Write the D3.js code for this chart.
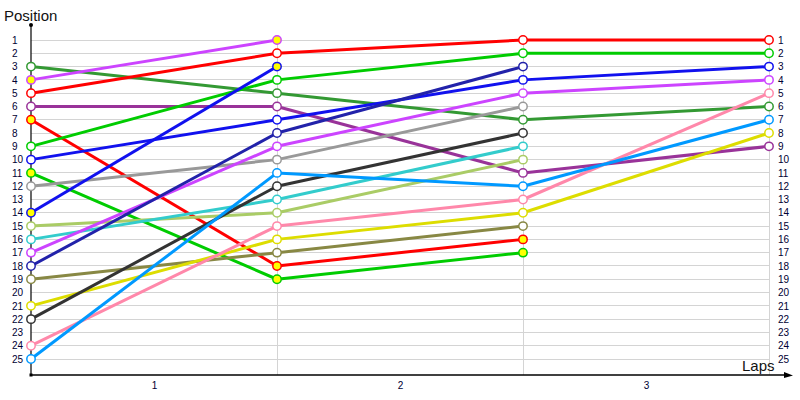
<!DOCTYPE html>
<html><head><meta charset="utf-8">
<script src="https://cdn.jsdelivr.net/npm/d3@7"></script>
<style>body{margin:0;background:#fff}svg{display:block}</style>
</head><body>
<svg id="c" width="800" height="400"></svg>
<script>
const laps = [0, 1, 2, 3];
const lapLabels = ["1", "2", "3"];
const positions = d3.range(1, 26);
const driverColors = ["#339933","#cc44ff","#ff0000","#993399","#ff0000","#00cc00","#1111ee","#00cc00","#999999","#1111ee","#aacc66","#33cccc","#cc44ff","#2222aa","#888844","#dddd00","#333333","#ff88aa","#0099ff"];
const driverYellow = [false,true,false,false,true,false,false,true,false,true,false,false,false,false,false,false,false,false,false];
const posLap0 = [3,4,5,6,7,9,10,11,12,14,15,16,17,18,19,21,22,24,25];
const posLap1 = [5,1,2,6,18,4,7,19,10,3,14,13,9,8,17,16,12,15,11];
const posLap2 = [7,null,1,11,16,2,4,17,6,null,10,9,5,3,15,14,8,13,12];
const posLap3 = [6,null,1,9,null,2,3,null,null,null,null,null,4,null,null,8,null,5,7];

const svg = d3.select("#c");
const x = d3.scaleLinear().domain([0, 3]).range([31, 769]);
const y = d3.scaleLinear().domain([1, 25]).range([40, 359]);
const font = "Tahoma, 'Liberation Sans', sans-serif";
const txt = "#000033";

// grid
svg.append("g").selectAll("line").data(positions).join("line")
  .attr("x1", x(0)).attr("x2", x(3)).attr("y1", d => y(d)).attr("y2", d => y(d))
  .attr("stroke", "#d4d4d4").attr("stroke-width", 1).attr("shape-rendering", "crispEdges");
svg.append("g").selectAll("line").data(laps.slice(1)).join("line")
  .attr("x1", d => x(d)).attr("x2", d => x(d)).attr("y1", y(1)).attr("y2", 375)
  .attr("stroke", "#d4d4d4").attr("stroke-width", 1).attr("shape-rendering", "crispEdges");

// left axis labels
const ga = svg.append("g").attr("transform", "translate(31,0)")
  .call(d3.axisLeft(y).tickValues(positions).tickSize(0).tickPadding(0).tickFormat(d3.format("d")));
ga.select(".domain").remove();
ga.selectAll("text").attr("x", -19).attr("text-anchor", "start")
  .attr("font-family", font).attr("font-size", 10).attr("fill", txt);
// right axis labels
const gr = svg.append("g").attr("transform", `translate(${x(3)},0)`)
  .call(d3.axisRight(y).tickValues(positions).tickSize(0).tickPadding(9).tickFormat(d3.format("d")));
gr.select(".domain").remove();
gr.selectAll("text").attr("font-family", font).attr("font-size", 10).attr("fill", txt);

// bottom axis labels
const gb = svg.append("g").attr("transform", "translate(0,375)")
  .call(d3.axisBottom(x).tickValues([0.5, 1.5, 2.5]).tickSize(0).tickPadding(7).tickFormat((d, i) => lapLabels[i]));
gb.select(".domain").remove();
gb.selectAll("text").attr("font-family", font).attr("font-size", 10).attr("fill", txt);

// axes lines
svg.append("line").attr("x1", 31).attr("x2", 31).attr("y1", 25).attr("y2", 375).attr("stroke", "#000").attr("stroke-width", 1.2);
svg.append("line").attr("x1", 31).attr("x2", 786).attr("y1", 375).attr("y2", 375).attr("stroke", "#000").attr("stroke-width", 1.5);
svg.append("path").attr("d", "M784,372 L793,375.5 L784,378 Z").attr("fill", "#000");
svg.append("circle").attr("cx", 31).attr("cy", 25).attr("r", 2).attr("fill", "#000");
svg.append("rect").attr("x", 29.5).attr("y", 373.5).attr("width", 3).attr("height", 3).attr("fill", "#000");

svg.append("text").attr("x", 4).attr("y", 21).text("Position")
  .attr("font-family", font).attr("font-size", 15).attr("fill", "#111");
svg.append("text").attr("x", 742).attr("y", 371).text("Laps")
  .attr("font-family", font).attr("font-size", 15).attr("fill", "#111");

// series
const allPos = [posLap0, posLap1, posLap2, posLap3];
const drivers = driverColors.map((c, i) => ({
  color: c, yellow: driverYellow[i],
  pts: laps.map((l, j) => ({ lap: l, pos: allPos[j][i] })).filter(p => p.pos != null)
}));
const line = d3.line().x(d => x(d.lap)).y(d => y(d.pos));
svg.append("g").selectAll("path").data(drivers).join("path")
  .attr("d", d => line(d.pts)).attr("fill", "none")
  .attr("stroke", d => d.color).attr("stroke-width", 3).attr("stroke-linejoin", "round");
drivers.forEach(d => {
  svg.append("g").selectAll("circle").data(d.pts).join("circle")
    .attr("cx", p => x(p.lap)).attr("cy", p => y(p.pos)).attr("r", 4.2)
    .attr("fill", d.yellow ? "#ffff00" : "#fff").attr("stroke", d.color).attr("stroke-width", 1.5);
});
</script>
</body></html>
